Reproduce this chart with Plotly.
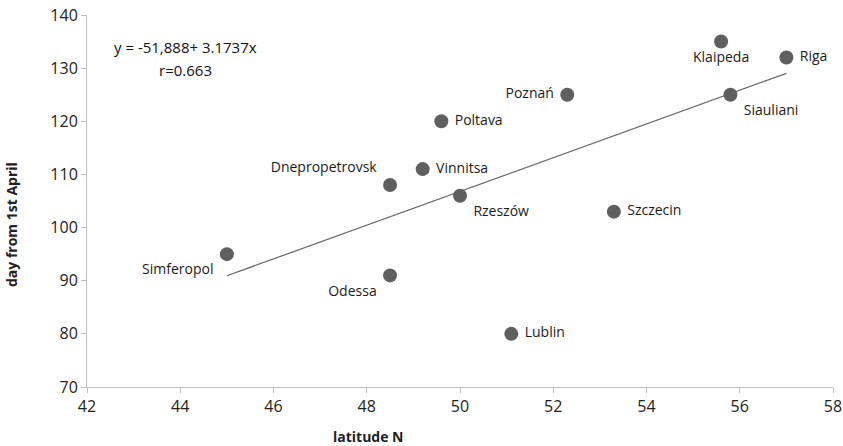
import plotly.graph_objects as go

cities = ["Simferopol", "Odessa", "Dnepropetrovsk", "Vinnitsa", "Rzeszów", "Poltava",
          "Lublin", "Poznań", "Szczecin", "Klaipeda", "Siauliani", "Riga"]
latitude = [45.0, 48.5, 48.5, 49.2, 50.0, 49.6, 51.1, 52.3, 53.3, 55.6, 55.8, 57.0]
day = [95, 91, 108, 111, 106, 120, 80, 125, 103, 135, 125, 132]
label_pos = ["bottom left", "bottom left", "top left", "middle right", "bottom right",
             "middle right", "middle right", "middle left", "middle right", "bottom center",
             "bottom right", "middle right"]

intercept = -51.888
slope = 3.1737
trend_x = [45.0, 57.0]
trend_y = [intercept + slope * v for v in trend_x]

x_ticks = [42, 44, 46, 48, 50, 52, 54, 56, 58]
y_ticks = [70, 80, 90, 100, 110, 120, 130, 140]

FONT = "Open Sans"
GREY = "#5f5f5f"

fig = go.Figure()
fig.add_trace(go.Scatter(x=trend_x, y=trend_y, mode="lines",
                         line=dict(color="#666666", width=1.2), hoverinfo="skip"))
fig.add_trace(go.Scatter(x=latitude, y=day, mode="markers+text", text=[" " + c + " " for c in cities],
                         textposition=label_pos,
                         textfont=dict(family=FONT, size=14, color="#1a1a1a"),
                         marker=dict(size=14, color=GREY), cliponaxis=False))

fig.add_annotation(x=185, y=47, xref="paper", yref="paper", showarrow=False,
                   text="y = -51,888+ 3.1737x", font=dict(family=FONT, size=15, color="#111"))
fig.add_annotation(x=185, y=70, xref="paper", yref="paper", showarrow=False,
                   text="r=0.663", font=dict(family=FONT, size=15, color="#111"))

fig.add_annotation(x=12, y=225, xref="paper", yref="paper",
                   text="<b>day from 1st April</b>", textangle=-90, showarrow=False,
                   font=dict(family=FONT, size=14, color="#222"))
fig.add_annotation(x=368, y=437, xref="paper", yref="paper",
                   text="<b>latitude N</b>", showarrow=False,
                   font=dict(family=FONT, size=14, color="#222"))

# convert pixel-placed annotations to paper coords
L, R, T, B, W, H = 87, 10, 15, 59, 843, 446
pw, ph = W - L - R, H - T - B
for a in fig.layout.annotations:
    a.x = (a.x - L) / pw
    a.y = (H - B - a.y) / ph
    a.xanchor = "center"
    a.yanchor = "middle"

fig.update_layout(
    width=W, height=H, showlegend=False,
    margin=dict(l=L, r=R, t=T, b=B, autoexpand=False),
    plot_bgcolor="white", paper_bgcolor="white",
    font=dict(family=FONT, size=16, color="#222"),
    xaxis=dict(range=[42, 58], tickvals=x_ticks, showgrid=False, zeroline=False,
               showline=True, linecolor="#bdbdbd", linewidth=1, automargin=False,
               ticks="outside", ticklen=5, tickcolor="#bdbdbd", tickfont=dict(size=16)),
    yaxis=dict(range=[70, 140], tickvals=y_ticks, showgrid=False, zeroline=False,
               showline=True, linecolor="#bdbdbd", linewidth=1, automargin=False,
               ticks="outside", ticklen=5, tickcolor="#bdbdbd", tickfont=dict(size=16)),
)

fig.write_html("out.html", config={"displayModeBar": False},
               post_script="document.body.style.margin='0px';")
